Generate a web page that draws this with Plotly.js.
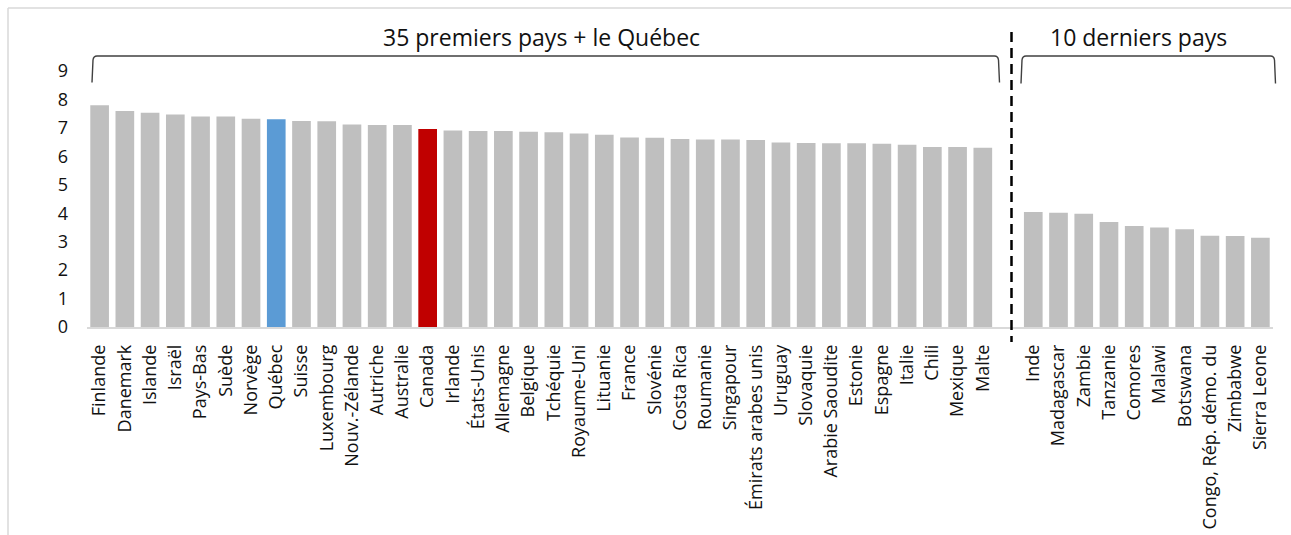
<!DOCTYPE html>
<html>
<head>
<meta charset="utf-8">
<script src="https://cdn.plot.ly/plotly-3.0.1.min.js"></script>
<style>
  html, body { margin: 0; padding: 0; background: #ffffff; }
  #chart { width: 1291px; height: 535px; }
</style>
</head>
<body>
<div id="chart"></div>
<script>
// ---- Data ----
const topCountries = ["Finlande","Danemark","Islande","Israël","Pays-Bas","Suède","Norvège","Québec","Suisse","Luxembourg","Nouv.-Zélande","Autriche","Australie","Canada","Irlande","États-Unis","Allemagne","Belgique","Tchéquie","Royaume-Uni","Lituanie","France","Slovénie","Costa Rica","Roumanie","Singapour","Émirats arabes unis","Uruguay","Slovaquie","Arabie Saoudite","Estonie","Espagne","Italie","Chili","Mexique","Malte"];
const topValues = [7.80,7.59,7.53,7.47,7.40,7.40,7.32,7.30,7.24,7.23,7.12,7.10,7.10,6.96,6.91,6.89,6.89,6.86,6.85,6.80,6.76,6.66,6.65,6.61,6.59,6.59,6.57,6.49,6.47,6.46,6.46,6.44,6.41,6.33,6.33,6.30];
const bottomCountries = ["Inde","Madagascar","Zambie","Tanzanie","Comores","Malawi","Botswana","Congo, Rép. démo. du","Zimbabwe","Sierra Leone"];
const bottomValues = [4.04,4.02,3.98,3.69,3.55,3.50,3.44,3.21,3.20,3.14];
const gapLabel = " ";
const groupTitles = ["35 premiers pays + le Québec", "10 derniers pays"];
const yTicks = [0,1,2,3,4,5,6,7,8,9];

// ---- Colours ----
const barGray = "#bfbfbf";
const highlight = { "Québec": "#5b9bd5", "Canada": "#c00000" };

const categories = topCountries.concat([gapLabel], bottomCountries);
const values = topValues.concat([null], bottomValues);
const colors = categories.map(c => highlight[c] || barGray);

// ---- Geometry (pixels) ----
const W = 1291, H = 535;
const M = { l: 87, r: 18, t: 71, b: 208 };
const pw = W - M.l - M.r, ph = H - M.t - M.b;
const px = x => (x - M.l) / pw;          // pixel x -> paper
const py = y => (H - M.b - y) / ph;      // pixel y -> paper

const lineCol = "#404040";
function bracketPath(x0, x1, yTop, yBot) {
  const pts = [
    ["M", x0, yBot], ["L", x0 + 1, yTop + 4],
    ["Q", x0 + 1.5, yTop, x0 + 5, yTop],
    ["L", x1 - 5, yTop],
    ["Q", x1 - 1.5, yTop, x1 - 1, yTop + 4],
    ["L", x1, yBot]
  ];
  return pts.map(p => {
    if (p[0] === "Q") return `Q${px(p[1])},${py(p[2])} ${px(p[3])},${py(p[4])}`;
    return `${p[0]}${px(p[1])},${py(p[2])}`;
  }).join(" ");
}

const shapes = [
  // chart frame
  { type: "line", xref: "paper", yref: "paper", x0: px(8), x1: px(8), y0: py(8), y1: py(560), line: { color: "#d9d9d9", width: 1.5 } },
  { type: "line", xref: "paper", yref: "paper", x0: px(8), x1: px(1310), y0: py(8), y1: py(8), line: { color: "#d9d9d9", width: 1.5 } },
  // brackets
  { type: "path", xref: "paper", yref: "paper", path: bracketPath(92, 999.5, 56, 82.5), line: { color: lineCol, width: 1.4 } },
  { type: "path", xref: "paper", yref: "paper", path: bracketPath(1021, 1275.5, 56, 83.5), line: { color: lineCol, width: 1.4 } },
  // dashed separator
  { type: "line", xref: "paper", yref: "paper", x0: px(1011.5), x1: px(1011.5), y0: py(32), y1: py(342), line: { color: "#000000", width: 2.5, dash: "10px,6px" } }
];

const annotations = [
  { xref: "paper", yref: "paper", x: px(541), y: py(37), text: groupTitles[0], showarrow: false, xanchor: "center", yanchor: "middle", font: { size: 23, color: "#111111", family: "Open Sans, sans-serif" } },
  { xref: "paper", yref: "paper", x: px(1138), y: py(37), text: groupTitles[1], showarrow: false, xanchor: "center", yanchor: "middle", font: { size: 23, color: "#111111", family: "Open Sans, sans-serif" } }
];

const trace = {
  type: "bar",
  x: categories,
  y: values,
  marker: { color: colors, line: { width: 0 } },
  hoverinfo: "x+y",
  showlegend: false
};

const layout = {
  width: W, height: H,
  margin: M,
  paper_bgcolor: "#ffffff",
  plot_bgcolor: "#ffffff",
  bargap: 0.26,
  font: { family: "Open Sans, sans-serif", size: 18, color: "#111111" },
  xaxis: {
    type: "category",
    categoryorder: "array",
    categoryarray: categories,
    range: [-0.5, categories.length - 0.5],
    tickangle: -90,
    showline: true, linecolor: "#d9d9d9", linewidth: 1.5,
    showgrid: false, zeroline: false,
    ticks: "", ticklabelstandoff: 9,
    tickfont: { size: 18, color: "#111111" },
    fixedrange: true
  },
  yaxis: {
    range: [0, 9],
    tickvals: yTicks,
    ticktext: yTicks.map(String),
    showline: false, showgrid: false, zeroline: false,
    ticks: "", ticklabelstandoff: 18,
    tickfont: { size: 18, color: "#111111" },
    fixedrange: true
  },
  shapes: shapes,
  annotations: annotations
};

Plotly.newPlot("chart", [trace], layout, { displayModeBar: false, staticPlot: true });
</script>
</body>
</html>
